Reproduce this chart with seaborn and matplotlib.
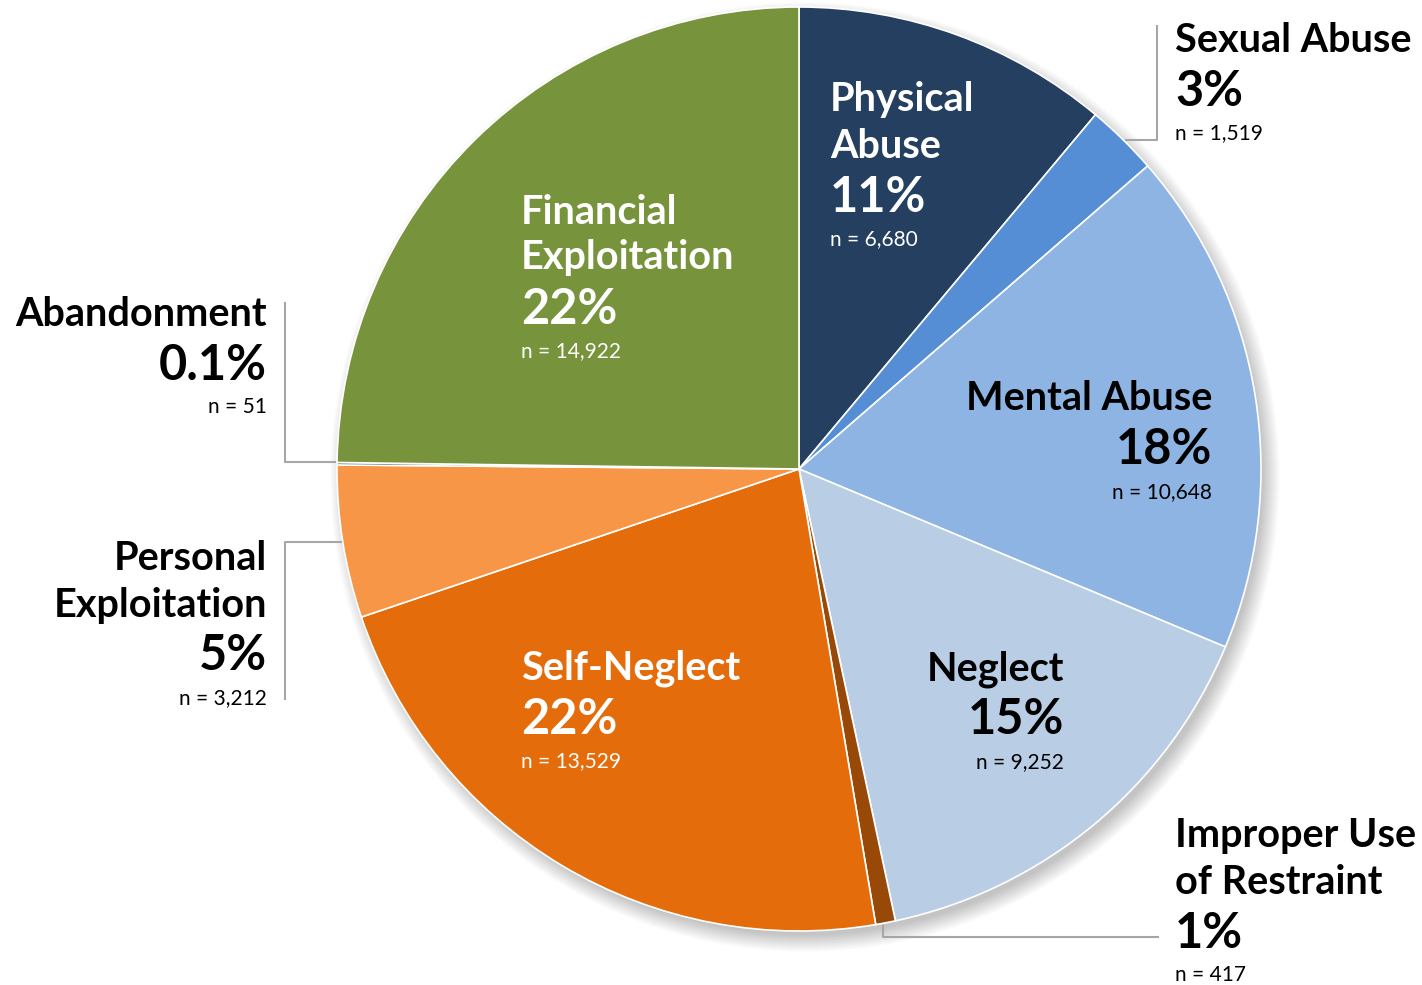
import matplotlib
matplotlib.use("Agg")
import matplotlib.pyplot as plt
from matplotlib.patches import Circle
import seaborn as sns

# Data (clockwise from 12 o'clock)
categories = ["Physical Abuse", "Sexual Abuse", "Mental Abuse", "Neglect",
              "Improper Use of Restraint", "Self-Neglect",
              "Personal Exploitation", "Abandonment", "Financial Exploitation"]
counts = [6680, 1519, 10648, 9252, 417, 13529, 3212, 51, 14922]
pct_labels = ["11%", "3%", "18%", "15%", "1%", "22%", "5%", "0.1%", "22%"]
colors = ["#253f60", "#558ed5", "#8eb4e3", "#b9cde5", "#984807",
          "#e46c0a", "#f79646", "#404040", "#77933c"]

sns.set_theme(style="white")
plt.rcParams["font.family"] = ["Lato", "DejaVu Sans"]

W, H = 1422, 985
CX, CY, R = 799, 469, 462

fig = plt.figure(figsize=(W / 100, H / 100), dpi=100)
ax = fig.add_axes([0, 0, 1, 1])


def px(x, y):
    return (x - CX) / R, (CY - y) / R


# soft drop shadow
for i in range(12):
    ax.add_patch(Circle(px(CX + 6, CY + 8), (R - 4 + i * 1.5) / R,
                        color="black", alpha=0.018, lw=0, zorder=0))

wedges, _ = ax.pie(counts, colors=colors, startangle=90, counterclock=False,
                   wedgeprops=dict(edgecolor="white", linewidth=1.2))
for w in wedges:
    w.set_zorder(2)
ax.set_xlim(-CX / R, (W - CX) / R)
ax.set_ylim(-(H - CY) / R, CY / R)
ax.set_aspect("equal")
ax.axis("off")

NAME, PCT, NSZ = 28.5, 35, 15


def label(x, lines, align, color):
    for text, y, kind in lines:
        size = {"name": NAME, "pct": PCT, "n": NSZ}[kind]
        weight = "normal" if kind == "n" else "bold"
        ax.text(*px(x, y), text, ha=align, va="center", fontsize=size,
                fontweight=weight, color=color, zorder=5)


def block(name_lines, idx, top, x, align, color):
    rows = []
    y = top
    for nl in name_lines:
        rows.append((nl, y, "name"))
        y += 46
    rows.append((pct_labels[idx], y + 5, "pct"))
    rows.append((f"n = {counts[idx]:,}", y + 47, "n"))
    label(x, rows, align, color)


block(["Physical", "Abuse"], 0, 100, 830, "left", "white")
block(["Financial", "Exploitation"], 8, 212, 521, "left", "white")
block(["Mental Abuse"], 2, 399, 1212, "right", "black")
block(["Neglect"], 3, 669, 1064, "right", "black")
block(["Self-Neglect"], 5, 668, 521, "left", "white")
block(["Sexual Abuse"], 1, 40, 1175, "left", "black")
block(["Abandonment"], 7, 314, 267, "right", "black")
block(["Personal", "Exploitation"], 6, 559, 267, "right", "black")
block(["Improper Use", "of Restraint"], 4, 836, 1175, "left", "black")

# leader lines
leaders = [
    [(1125, 140), (1157, 140), (1157, 25)],
    [(337, 462), (285, 462), (285, 302)],
    [(342, 542), (285, 542), (285, 700)],
    [(883, 925), (883, 937), (1159, 937)],
]
for pts in leaders:
    xs, ys = zip(*[px(x, y) for x, y in pts])
    ax.plot(xs, ys, color="#a6a6a6", lw=1.5, solid_capstyle="butt", zorder=1)

fig.savefig("out.png", dpi=100, facecolor="white")
